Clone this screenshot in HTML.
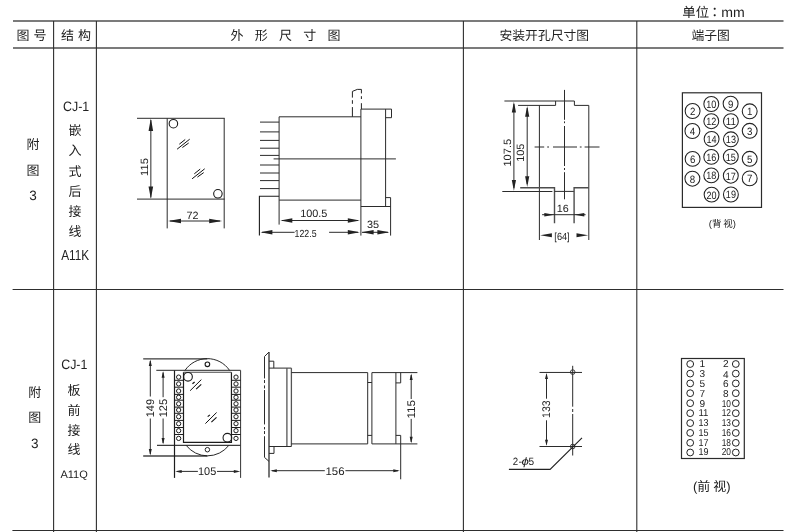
<!DOCTYPE html>
<html lang="zh-CN">
<head>
<meta charset="utf-8">
<title>外形尺寸图</title>
<style>
html,body{margin:0;padding:0;background:#fff;}
body{width:802px;height:532px;overflow:hidden;}
svg{display:block;will-change:transform;transform:translateZ(0);font-family:"Liberation Sans","Noto Sans CJK SC",sans-serif;}
svg text{white-space:pre;text-rendering:geometricPrecision;}
</style>
</head>
<body>
<svg width="802" height="532" viewBox="0 0 802 532">
<rect width="802" height="532" fill="#fff"/>
<line x1="13" y1="21" x2="783.5" y2="21" stroke="#4f4f4f" stroke-width="1.4" />
<line x1="13" y1="48" x2="783.5" y2="48" stroke="#4f4f4f" stroke-width="1.4" />
<line x1="12.6" y1="289.5" x2="783.5" y2="289.5" stroke="#2e2e2e" stroke-width="1.05" />
<line x1="12.4" y1="530.4" x2="783.5" y2="530.4" stroke="#2e2e2e" stroke-width="1.05" />
<line x1="53.6" y1="21" x2="53.6" y2="532" stroke="#2e2e2e" stroke-width="1.1" />
<line x1="96.4" y1="21" x2="96.4" y2="532" stroke="#2e2e2e" stroke-width="1.1" />
<line x1="463.4" y1="21" x2="463.4" y2="532" stroke="#2e2e2e" stroke-width="1.1" />
<line x1="636.8" y1="21" x2="636.8" y2="532" stroke="#2e2e2e" stroke-width="1.1" />
<text x="682.3" y="17.3" font-size="13.4" text-anchor="start" fill="#222" >单位</text>
<text x="714.7" y="17.3" font-size="13.4" text-anchor="middle" fill="#222" font-family="Liberation Sans,Noto Sans CJK TC,sans-serif">：</text>
<text x="721.3" y="17.3" font-size="13.8" text-anchor="start" fill="#222" textLength="23.5" lengthAdjust="spacingAndGlyphs" >mm</text>
<text x="16.4" y="40.4" font-size="13" text-anchor="start" fill="#222" >图</text>
<text x="33.4" y="40.4" font-size="13" text-anchor="start" fill="#222" >号</text>
<text x="61" y="40.4" font-size="13" text-anchor="start" fill="#222" >结</text>
<text x="78" y="40.4" font-size="13" text-anchor="start" fill="#222" >构</text>
<text x="236.9" y="40.4" font-size="13" text-anchor="middle" fill="#222" >外</text>
<text x="261.2" y="40.4" font-size="13" text-anchor="middle" fill="#222" >形</text>
<text x="285.5" y="40.4" font-size="13" text-anchor="middle" fill="#222" >尺</text>
<text x="309.8" y="40.4" font-size="13" text-anchor="middle" fill="#222" >寸</text>
<text x="334.1" y="40.4" font-size="13" text-anchor="middle" fill="#222" >图</text>
<text x="544.3" y="40.4" font-size="12.8" text-anchor="middle" fill="#222" >安装开孔尺寸图</text>
<text x="710.6" y="40.4" font-size="12.8" text-anchor="middle" fill="#222" >端子图</text>
<text x="33" y="148.6" font-size="13" text-anchor="middle" fill="#222" >附</text>
<text x="33" y="174.5" font-size="13" text-anchor="middle" fill="#222" >图</text>
<text x="33.1" y="199.9" font-size="13.5" text-anchor="middle" fill="#222" >3</text>
<text x="76.1" y="110.6" font-size="13.6" text-anchor="middle" fill="#222" textLength="26.2" lengthAdjust="spacingAndGlyphs" >CJ-1</text>
<text x="75.1" y="135.4" font-size="13" text-anchor="middle" fill="#222" >嵌</text>
<text x="75.1" y="155.4" font-size="13" text-anchor="middle" fill="#222" >入</text>
<text x="75.1" y="175.79999999999998" font-size="13" text-anchor="middle" fill="#222" >式</text>
<text x="75.1" y="195.6" font-size="13" text-anchor="middle" fill="#222" >后</text>
<text x="75.1" y="215.5" font-size="13" text-anchor="middle" fill="#222" >接</text>
<text x="75.1" y="235.5" font-size="13" text-anchor="middle" fill="#222" >线</text>
<text x="75.2" y="259.6" font-size="14.5" text-anchor="middle" fill="#222" textLength="28" lengthAdjust="spacingAndGlyphs" >A11K</text>
<line x1="137" y1="118.3" x2="224.7" y2="118.3" stroke="#2b2b2b" stroke-width="1" />
<line x1="137" y1="199.1" x2="224.7" y2="199.1" stroke="#2b2b2b" stroke-width="1" />
<line x1="167.2" y1="118.3" x2="167.2" y2="228.4" stroke="#2b2b2b" stroke-width="1" />
<line x1="224.2" y1="118.3" x2="224.2" y2="228.4" stroke="#2b2b2b" stroke-width="1" />
<circle cx="173.4" cy="123.7" r="4.25" stroke="#1c1c1c" stroke-width="1.1" fill="none"/>
<circle cx="217.9" cy="193.8" r="4.25" stroke="#1c1c1c" stroke-width="1.1" fill="none"/>
<line x1="177.1" y1="149.2" x2="189.7" y2="139.2" stroke="#111" stroke-width="1.0" />
<line x1="179.29999999999998" y1="144.2" x2="185.2" y2="139.5" stroke="#111" stroke-width="1.0" />
<line x1="182.4" y1="147.5" x2="188.7" y2="143.0" stroke="#111" stroke-width="1.0" />
<line x1="192.1" y1="178.8" x2="204.7" y2="168.8" stroke="#111" stroke-width="1.0" />
<line x1="194.29999999999998" y1="173.8" x2="200.2" y2="169.10000000000002" stroke="#111" stroke-width="1.0" />
<line x1="197.4" y1="177.10000000000002" x2="203.7" y2="172.60000000000002" stroke="#111" stroke-width="1.0" />
<line x1="150.85" y1="120" x2="150.85" y2="197.5" stroke="#2b2b2b" stroke-width="1" />
<polygon points="150.85,118.60 153.15,130.90 148.55,130.90" fill="#222"/>
<polygon points="150.85,198.80 148.55,186.50 153.15,186.50" fill="#222"/>
<text x="147.7" y="166.9" font-size="10.6" text-anchor="middle" fill="#222" textLength="18" lengthAdjust="spacingAndGlyphs" transform="rotate(-90 147.7 166.9)" >115</text>
<line x1="170" y1="221" x2="220" y2="221" stroke="#2b2b2b" stroke-width="1" />
<polygon points="168.00,221.00 181.00,218.70 181.00,223.30" fill="#222"/>
<polygon points="222.20,221.00 209.20,223.30 209.20,218.70" fill="#222"/>
<text x="192.5" y="218.9" font-size="10.6" text-anchor="middle" fill="#222" textLength="12" lengthAdjust="spacingAndGlyphs" >72</text>
<line x1="279.1" y1="116.8" x2="360.9" y2="116.8" stroke="#2b2b2b" stroke-width="1" />
<line x1="279.1" y1="116.8" x2="279.1" y2="224.6" stroke="#2b2b2b" stroke-width="1" />
<line x1="260" y1="122.1" x2="279.1" y2="122.1" stroke="#2b2b2b" stroke-width="1" />
<line x1="260" y1="131.9" x2="279.1" y2="131.9" stroke="#2b2b2b" stroke-width="1" />
<line x1="260" y1="140.4" x2="279.1" y2="140.4" stroke="#2b2b2b" stroke-width="1" />
<line x1="260" y1="148.2" x2="279.1" y2="148.2" stroke="#2b2b2b" stroke-width="1" />
<line x1="260" y1="155.4" x2="279.1" y2="155.4" stroke="#2b2b2b" stroke-width="1" />
<line x1="260" y1="165" x2="279.1" y2="165" stroke="#2b2b2b" stroke-width="1" />
<line x1="260" y1="173" x2="279.1" y2="173" stroke="#2b2b2b" stroke-width="1" />
<line x1="260" y1="180.6" x2="279.1" y2="180.6" stroke="#2b2b2b" stroke-width="1" />
<line x1="260" y1="188.6" x2="279.1" y2="188.6" stroke="#2b2b2b" stroke-width="1" />
<line x1="273.6" y1="158.9" x2="395.9" y2="158.9" stroke="#2b2b2b" stroke-width="1" />
<line x1="279.1" y1="200.1" x2="360.9" y2="200.1" stroke="#2b2b2b" stroke-width="1" />
<path d="M279.1 196.2 H259.4 V235.6" stroke="#1c1c1c" stroke-width="1.1" fill="none" />
<line x1="352.4" y1="116.8" x2="352.4" y2="107.1" stroke="#222" stroke-width="1" />
<line x1="352.4" y1="103.8" x2="352.4" y2="100.2" stroke="#222" stroke-width="1" />
<path d="M352.4 97.6 V91.4 L357.3 89.4 H361.4 V93.4" stroke="#222" stroke-width="1" fill="none" />
<line x1="361.4" y1="96.2" x2="361.4" y2="99.0" stroke="#222" stroke-width="1" />
<line x1="361.4" y1="103.2" x2="361.4" y2="109.1" stroke="#222" stroke-width="1" />
<line x1="360.9" y1="109.1" x2="360.9" y2="235.6" stroke="#2b2b2b" stroke-width="1" />
<path d="M360.9 109.1 H391.5 V117.7 H385.6" stroke="#2b2b2b" stroke-width="1" fill="none" />
<line x1="385.6" y1="109.1" x2="385.6" y2="206.5" stroke="#2b2b2b" stroke-width="1" />
<path d="M385.6 197.6 H390.6 V235.6" stroke="#2b2b2b" stroke-width="1" fill="none" />
<line x1="360.9" y1="206.5" x2="390.6" y2="206.5" stroke="#2b2b2b" stroke-width="1" />
<line x1="282" y1="220.5" x2="358" y2="220.5" stroke="#2b2b2b" stroke-width="1" />
<polygon points="280.30,220.50 292.30,218.20 292.30,222.80" fill="#222"/>
<polygon points="359.80,220.50 347.80,222.80 347.80,218.20" fill="#222"/>
<text x="313.8" y="216.9" font-size="10.6" text-anchor="middle" fill="#222" textLength="27.2" lengthAdjust="spacingAndGlyphs" >100.5</text>
<line x1="262" y1="232.3" x2="294.6" y2="232.3" stroke="#2b2b2b" stroke-width="1" />
<polygon points="260.40,232.30 272.40,230.00 272.40,234.60" fill="#222"/>
<line x1="329.1" y1="232.3" x2="358" y2="232.3" stroke="#2b2b2b" stroke-width="1" />
<polygon points="359.80,232.30 347.80,234.60 347.80,230.00" fill="#222"/>
<text x="305.6" y="236.8" font-size="10.3" text-anchor="middle" fill="#222" textLength="22" lengthAdjust="spacingAndGlyphs" >122.5</text>
<line x1="362" y1="232.3" x2="388" y2="232.3" stroke="#2b2b2b" stroke-width="1" />
<polygon points="361.60,232.30 373.60,230.00 373.60,234.60" fill="#222"/>
<polygon points="389.40,232.30 377.40,234.60 377.40,230.00" fill="#222"/>
<text x="373" y="227.7" font-size="10.6" text-anchor="middle" fill="#222" textLength="12.1" lengthAdjust="spacingAndGlyphs" >35</text>
<line x1="504.4" y1="101" x2="574.4" y2="101" stroke="#2b2b2b" stroke-width="1" />
<path d="M518.1 105.4 H555.6 V101" stroke="#2b2b2b" stroke-width="1" fill="none" />
<path d="M574.4 101 V105.4 H588.8 V240" stroke="#2b2b2b" stroke-width="1" fill="none" />
<line x1="539.4" y1="105.4" x2="539.4" y2="240" stroke="#2b2b2b" stroke-width="1" />
<line x1="564.5" y1="89.9" x2="564.5" y2="199.3" stroke="#2b2b2b" stroke-width="1" stroke-dasharray="29.9 1.6 1.8 2.8 40 2 2 2.2 40"/>
<line x1="534.6" y1="147" x2="599.5" y2="147" stroke="#2b2b2b" stroke-width="1" stroke-dasharray="9.6 3 1.8 4 24 2.8 1.8 3 30"/>
<path d="M520.2 187.7 H554.5 V223.2" stroke="#4d4d4d" stroke-width="1.4" fill="none" />
<line x1="502.3" y1="191.5" x2="552.4" y2="191.5" stroke="#2b2b2b" stroke-width="1" />
<line x1="554.5" y1="191.4" x2="574.1" y2="191.4" stroke="#2b2b2b" stroke-width="1" />
<path d="M588.8 187.7 H574.1 V223.2" stroke="#4d4d4d" stroke-width="1.4" fill="none" />
<line x1="513.9" y1="104" x2="513.9" y2="188" stroke="#2b2b2b" stroke-width="1" />
<polygon points="513.90,101.70 516.00,112.50 511.80,112.50" fill="#222"/>
<polygon points="513.90,190.70 511.80,179.90 516.00,179.90" fill="#222"/>
<line x1="527.2" y1="108" x2="527.2" y2="184" stroke="#2b2b2b" stroke-width="1" />
<polygon points="527.20,106.00 529.30,116.80 525.10,116.80" fill="#222"/>
<polygon points="527.20,187.00 525.10,176.20 529.30,176.20" fill="#222"/>
<text x="511.3" y="152.7" font-size="10.6" text-anchor="middle" fill="#222" textLength="27.8" lengthAdjust="spacingAndGlyphs" transform="rotate(-90 511.3 152.7)" >107.5</text>
<text x="524.3" y="152.7" font-size="10.6" text-anchor="middle" fill="#222" textLength="18.2" lengthAdjust="spacingAndGlyphs" transform="rotate(-90 524.3 152.7)" >105</text>
<line x1="542.1" y1="214.7" x2="585.6" y2="214.7" stroke="#2b2b2b" stroke-width="1" />
<polygon points="554.30,214.70 544.30,216.50 544.30,212.90" fill="#222"/>
<polygon points="574.30,214.70 584.30,212.90 584.30,216.50" fill="#222"/>
<text x="562.8" y="211.9" font-size="10.5" text-anchor="middle" fill="#222" textLength="12" lengthAdjust="spacingAndGlyphs" >16</text>
<polygon points="540.20,235.30 551.90,233.30 551.90,237.30" fill="#222"/>
<polygon points="588.20,235.30 576.50,237.30 576.50,233.30" fill="#222"/>
<text x="562" y="239.5" font-size="10.3" text-anchor="middle" fill="#222" textLength="15.3" lengthAdjust="spacingAndGlyphs" >[64]</text>
<rect x="682.4" y="92.8" width="79.1" height="114.6" fill="none" stroke="#2b2b2b" stroke-width="1.2"/>
<circle cx="711.3" cy="104" r="7.45" stroke="#222" stroke-width="1.05" fill="none"/>
<text x="711.3" y="107.9" font-size="10.6" text-anchor="middle" fill="#222" textLength="10.1" lengthAdjust="spacingAndGlyphs" >10</text>
<circle cx="730.6" cy="103.7" r="7.45" stroke="#222" stroke-width="1.05" fill="none"/>
<text x="730.6" y="107.60000000000001" font-size="10.6" text-anchor="middle" fill="#222" textLength="5.4" lengthAdjust="spacingAndGlyphs" >9</text>
<circle cx="692.6" cy="111" r="7.45" stroke="#222" stroke-width="1.05" fill="none"/>
<text x="692.6" y="114.9" font-size="10.6" text-anchor="middle" fill="#222" textLength="5.4" lengthAdjust="spacingAndGlyphs" >2</text>
<circle cx="749.7" cy="111.3" r="7.45" stroke="#222" stroke-width="1.05" fill="none"/>
<text x="749.7" y="115.2" font-size="10.6" text-anchor="middle" fill="#222" textLength="5.4" lengthAdjust="spacingAndGlyphs" >1</text>
<circle cx="711.3" cy="121.2" r="7.45" stroke="#222" stroke-width="1.05" fill="none"/>
<text x="711.3" y="125.10000000000001" font-size="10.6" text-anchor="middle" fill="#222" textLength="10.1" lengthAdjust="spacingAndGlyphs" >12</text>
<circle cx="730.9" cy="121.2" r="7.45" stroke="#222" stroke-width="1.05" fill="none"/>
<text x="730.9" y="125.10000000000001" font-size="10.6" text-anchor="middle" fill="#222" textLength="10.1" lengthAdjust="spacingAndGlyphs" >11</text>
<circle cx="692.4" cy="131" r="7.45" stroke="#222" stroke-width="1.05" fill="none"/>
<text x="692.4" y="134.9" font-size="10.6" text-anchor="middle" fill="#222" textLength="5.4" lengthAdjust="spacingAndGlyphs" >4</text>
<circle cx="749.7" cy="130.8" r="7.45" stroke="#222" stroke-width="1.05" fill="none"/>
<text x="749.7" y="134.70000000000002" font-size="10.6" text-anchor="middle" fill="#222" textLength="5.4" lengthAdjust="spacingAndGlyphs" >3</text>
<circle cx="711.6" cy="139" r="7.45" stroke="#222" stroke-width="1.05" fill="none"/>
<text x="711.6" y="142.9" font-size="10.6" text-anchor="middle" fill="#222" textLength="10.1" lengthAdjust="spacingAndGlyphs" >14</text>
<circle cx="730.9" cy="139.3" r="7.45" stroke="#222" stroke-width="1.05" fill="none"/>
<text x="730.9" y="143.20000000000002" font-size="10.6" text-anchor="middle" fill="#222" textLength="10.1" lengthAdjust="spacingAndGlyphs" >13</text>
<circle cx="692.6" cy="158.9" r="7.45" stroke="#222" stroke-width="1.05" fill="none"/>
<text x="692.6" y="162.8" font-size="10.6" text-anchor="middle" fill="#222" textLength="5.4" lengthAdjust="spacingAndGlyphs" >6</text>
<circle cx="711.3" cy="156.9" r="7.45" stroke="#222" stroke-width="1.05" fill="none"/>
<text x="711.3" y="160.8" font-size="10.6" text-anchor="middle" fill="#222" textLength="10.1" lengthAdjust="spacingAndGlyphs" >16</text>
<circle cx="730.8" cy="156.7" r="7.45" stroke="#222" stroke-width="1.05" fill="none"/>
<text x="730.8" y="160.6" font-size="10.6" text-anchor="middle" fill="#222" textLength="10.1" lengthAdjust="spacingAndGlyphs" >15</text>
<circle cx="749.7" cy="158.8" r="7.45" stroke="#222" stroke-width="1.05" fill="none"/>
<text x="749.7" y="162.70000000000002" font-size="10.6" text-anchor="middle" fill="#222" textLength="5.4" lengthAdjust="spacingAndGlyphs" >5</text>
<circle cx="692.4" cy="178.7" r="7.45" stroke="#222" stroke-width="1.05" fill="none"/>
<text x="692.4" y="182.6" font-size="10.6" text-anchor="middle" fill="#222" textLength="5.4" lengthAdjust="spacingAndGlyphs" >8</text>
<circle cx="711.3" cy="175.4" r="7.45" stroke="#222" stroke-width="1.05" fill="none"/>
<text x="711.3" y="179.3" font-size="10.6" text-anchor="middle" fill="#222" textLength="10.1" lengthAdjust="spacingAndGlyphs" >18</text>
<circle cx="730.8" cy="175.7" r="7.45" stroke="#222" stroke-width="1.05" fill="none"/>
<text x="730.8" y="179.6" font-size="10.6" text-anchor="middle" fill="#222" textLength="10.1" lengthAdjust="spacingAndGlyphs" >17</text>
<circle cx="749.7" cy="178.4" r="7.45" stroke="#222" stroke-width="1.05" fill="none"/>
<text x="749.7" y="182.3" font-size="10.6" text-anchor="middle" fill="#222" textLength="5.4" lengthAdjust="spacingAndGlyphs" >7</text>
<circle cx="711.6" cy="194.6" r="7.45" stroke="#222" stroke-width="1.05" fill="none"/>
<text x="711.6" y="198.5" font-size="10.6" text-anchor="middle" fill="#222" textLength="10.1" lengthAdjust="spacingAndGlyphs" >20</text>
<circle cx="730.9" cy="194.5" r="7.45" stroke="#222" stroke-width="1.05" fill="none"/>
<text x="730.9" y="198.4" font-size="10.6" text-anchor="middle" fill="#222" textLength="10.1" lengthAdjust="spacingAndGlyphs" >19</text>
<text x="708.8" y="227.2" font-size="9.5" text-anchor="start" fill="#222" >(背</text>
<text x="736" y="227.2" font-size="9.5" text-anchor="end" fill="#222" >视)</text>
<text x="34.7" y="396.7" font-size="13" text-anchor="middle" fill="#222" >附</text>
<text x="34.7" y="422.2" font-size="13" text-anchor="middle" fill="#222" >图</text>
<text x="34.7" y="447.7" font-size="13.5" text-anchor="middle" fill="#222" >3</text>
<text x="74.3" y="368.6" font-size="13.6" text-anchor="middle" fill="#222" textLength="26.2" lengthAdjust="spacingAndGlyphs" >CJ-1</text>
<text x="73.9" y="394.5" font-size="13" text-anchor="middle" fill="#222" >板</text>
<text x="73.9" y="414.6" font-size="13" text-anchor="middle" fill="#222" >前</text>
<text x="73.9" y="434.6" font-size="13" text-anchor="middle" fill="#222" >接</text>
<text x="73.9" y="454.1" font-size="13" text-anchor="middle" fill="#222" >线</text>
<text x="74.1" y="478" font-size="10.8" text-anchor="middle" fill="#222" textLength="27.4" lengthAdjust="spacingAndGlyphs" >A11Q</text>
<line x1="143.2" y1="358.8" x2="207.4" y2="358.8" stroke="#3a3a3a" stroke-width="1.3" />
<line x1="156.3" y1="370.3" x2="240.6" y2="370.3" stroke="#505050" stroke-width="1.35" />
<line x1="157" y1="445.3" x2="240.6" y2="445.3" stroke="#3c3c3c" stroke-width="1.3" />
<line x1="143.2" y1="456.0" x2="207.4" y2="456.0" stroke="#444" stroke-width="1.4" />
<line x1="174.5" y1="370.4" x2="174.5" y2="477.9" stroke="#1c1c1c" stroke-width="1.2" />
<line x1="240.6" y1="370.4" x2="240.6" y2="477.9" stroke="#333" stroke-width="1.0" />
<path d="M183.5 372.2 V442.4 H231.45 V372.2" stroke="#1c1c1c" stroke-width="1.2" fill="none" />
<line x1="183.5" y1="372.25" x2="231.3" y2="372.25" stroke="#484848" stroke-width="1.1" />
<path d="M185 370.4 A27 27 0 0 1 229.6 370.4" stroke="#1c1c1c" stroke-width="0.95" fill="none" />
<path d="M186.1 445.3 A27 27 0 0 0 228.9 445.3" stroke="#1c1c1c" stroke-width="0.95" fill="none" />
<circle cx="207.4" cy="364.3" r="2.3" stroke="#1c1c1c" stroke-width="1.1" fill="none"/>
<circle cx="207.4" cy="449.7" r="2.25" stroke="#1c1c1c" stroke-width="0.95" fill="none"/>
<circle cx="188.0" cy="376.8" r="4.35" stroke="#1c1c1c" stroke-width="1.1" fill="none"/>
<circle cx="227.4" cy="437.7" r="4.35" stroke="#1c1c1c" stroke-width="1.1" fill="none"/>
<circle cx="178.65" cy="377.1" r="2.15" stroke="#1c1c1c" stroke-width="1.0" fill="none"/>
<circle cx="236.0" cy="377.1" r="2.15" stroke="#1c1c1c" stroke-width="1.0" fill="none"/>
<circle cx="178.65" cy="383.9" r="2.15" stroke="#1c1c1c" stroke-width="1.0" fill="none"/>
<circle cx="236.0" cy="383.9" r="2.15" stroke="#1c1c1c" stroke-width="1.0" fill="none"/>
<circle cx="178.65" cy="391" r="2.15" stroke="#1c1c1c" stroke-width="1.0" fill="none"/>
<circle cx="236.0" cy="391" r="2.15" stroke="#1c1c1c" stroke-width="1.0" fill="none"/>
<circle cx="178.65" cy="397.3" r="2.15" stroke="#1c1c1c" stroke-width="1.0" fill="none"/>
<circle cx="236.0" cy="397.3" r="2.15" stroke="#1c1c1c" stroke-width="1.0" fill="none"/>
<circle cx="178.65" cy="403.8" r="2.15" stroke="#1c1c1c" stroke-width="1.0" fill="none"/>
<circle cx="236.0" cy="403.8" r="2.15" stroke="#1c1c1c" stroke-width="1.0" fill="none"/>
<circle cx="178.65" cy="410" r="2.15" stroke="#1c1c1c" stroke-width="1.0" fill="none"/>
<circle cx="236.0" cy="410" r="2.15" stroke="#1c1c1c" stroke-width="1.0" fill="none"/>
<circle cx="178.65" cy="416.7" r="2.15" stroke="#1c1c1c" stroke-width="1.0" fill="none"/>
<circle cx="236.0" cy="416.7" r="2.15" stroke="#1c1c1c" stroke-width="1.0" fill="none"/>
<circle cx="178.65" cy="423.7" r="2.15" stroke="#1c1c1c" stroke-width="1.0" fill="none"/>
<circle cx="236.0" cy="423.7" r="2.15" stroke="#1c1c1c" stroke-width="1.0" fill="none"/>
<circle cx="178.65" cy="430.7" r="2.15" stroke="#1c1c1c" stroke-width="1.0" fill="none"/>
<circle cx="236.0" cy="430.7" r="2.15" stroke="#1c1c1c" stroke-width="1.0" fill="none"/>
<circle cx="178.65" cy="438.4" r="2.15" stroke="#1c1c1c" stroke-width="1.0" fill="none"/>
<circle cx="236.0" cy="438.4" r="2.15" stroke="#1c1c1c" stroke-width="1.0" fill="none"/>
<line x1="174.5" y1="380.3" x2="183.5" y2="380.3" stroke="#1c1c1c" stroke-width="1.0" />
<line x1="231.3" y1="380.3" x2="240.6" y2="380.3" stroke="#1c1c1c" stroke-width="1.0" />
<line x1="174.5" y1="387.2" x2="183.5" y2="387.2" stroke="#1c1c1c" stroke-width="1.0" />
<line x1="231.3" y1="387.2" x2="240.6" y2="387.2" stroke="#1c1c1c" stroke-width="1.0" />
<line x1="174.5" y1="394.4" x2="183.5" y2="394.4" stroke="#1c1c1c" stroke-width="1.0" />
<line x1="231.3" y1="394.4" x2="240.6" y2="394.4" stroke="#1c1c1c" stroke-width="1.0" />
<line x1="174.5" y1="400.2" x2="183.5" y2="400.2" stroke="#1c1c1c" stroke-width="1.0" />
<line x1="231.3" y1="400.2" x2="240.6" y2="400.2" stroke="#1c1c1c" stroke-width="1.0" />
<line x1="174.5" y1="407.1" x2="183.5" y2="407.1" stroke="#1c1c1c" stroke-width="1.0" />
<line x1="231.3" y1="407.1" x2="240.6" y2="407.1" stroke="#1c1c1c" stroke-width="1.0" />
<line x1="174.5" y1="413.3" x2="183.5" y2="413.3" stroke="#1c1c1c" stroke-width="1.0" />
<line x1="231.3" y1="413.3" x2="240.6" y2="413.3" stroke="#1c1c1c" stroke-width="1.0" />
<line x1="174.5" y1="420.4" x2="183.5" y2="420.4" stroke="#1c1c1c" stroke-width="1.0" />
<line x1="231.3" y1="420.4" x2="240.6" y2="420.4" stroke="#1c1c1c" stroke-width="1.0" />
<line x1="174.5" y1="427.5" x2="183.5" y2="427.5" stroke="#1c1c1c" stroke-width="1.0" />
<line x1="231.3" y1="427.5" x2="240.6" y2="427.5" stroke="#1c1c1c" stroke-width="1.0" />
<line x1="174.5" y1="434.5" x2="183.5" y2="434.5" stroke="#1c1c1c" stroke-width="1.0" />
<line x1="231.3" y1="434.5" x2="240.6" y2="434.5" stroke="#1c1c1c" stroke-width="1.0" />
<line x1="190.15" y1="390.7" x2="201.35" y2="379.59999999999997" stroke="#111" stroke-width="1.0" />
<line x1="196.15" y1="389.2" x2="201.25" y2="384.4" stroke="#111" stroke-width="1.1" />
<line x1="192.45000000000002" y1="383.7" x2="194.65" y2="382.0" stroke="#111" stroke-width="1.2" />
<line x1="205.4" y1="423.6" x2="216.6" y2="412.5" stroke="#111" stroke-width="1.0" />
<line x1="211.4" y1="422.1" x2="216.5" y2="417.3" stroke="#111" stroke-width="1.1" />
<line x1="207.70000000000002" y1="416.6" x2="209.9" y2="414.90000000000003" stroke="#111" stroke-width="1.2" />
<line x1="150.3" y1="361" x2="150.3" y2="396.5" stroke="#2b2b2b" stroke-width="1" />
<line x1="150.3" y1="418.5" x2="150.3" y2="454" stroke="#2b2b2b" stroke-width="1" />
<polygon points="150.30,359.60 151.80,366.10 148.80,366.10" fill="#222"/>
<polygon points="150.30,455.40 148.80,448.90 151.80,448.90" fill="#222"/>
<text x="153.9" y="408.1" font-size="11.1" text-anchor="middle" fill="#222" textLength="18.3" lengthAdjust="spacingAndGlyphs" transform="rotate(-90 153.9 408.1)" >149</text>
<line x1="163.1" y1="372.5" x2="163.1" y2="397.2" stroke="#2b2b2b" stroke-width="1" />
<line x1="163.1" y1="418.5" x2="163.1" y2="443" stroke="#2b2b2b" stroke-width="1" />
<polygon points="163.10,371.20 164.60,377.70 161.60,377.70" fill="#222"/>
<polygon points="163.10,444.60 161.60,438.10 164.60,438.10" fill="#222"/>
<text x="167.0" y="408.1" font-size="11.1" text-anchor="middle" fill="#222" textLength="18.3" lengthAdjust="spacingAndGlyphs" transform="rotate(-90 167.0 408.1)" >125</text>
<line x1="177" y1="471.4" x2="197.9" y2="471.4" stroke="#2b2b2b" stroke-width="1" />
<line x1="217.0" y1="471.4" x2="238" y2="471.4" stroke="#2b2b2b" stroke-width="1" />
<polygon points="175.20,471.40 181.70,469.90 181.70,472.90" fill="#222"/>
<polygon points="240.30,471.40 233.80,472.90 233.80,469.90" fill="#222"/>
<text x="207.1" y="474.8" font-size="11.0" text-anchor="middle" fill="#222" textLength="18.2" lengthAdjust="spacingAndGlyphs" >105</text>
<line x1="269" y1="352" x2="269" y2="477.4" stroke="#555" stroke-width="1.6" />
<path d="M269 352 L264.5 356.5 V457.4 L269 461.4" stroke="#2b2b2b" stroke-width="1" fill="none" stroke-dasharray="28.3 1.6 3 2.4 3 1.6 34.4 2.6 2.4 1.6 3 2.2 40"/>
<path d="M269 361.2 H273.8 V368.1" stroke="#2b2b2b" stroke-width="1" fill="none" />
<line x1="269" y1="368.1" x2="291.4" y2="368.1" stroke="#2b2b2b" stroke-width="1" />
<line x1="286.9" y1="368.1" x2="286.9" y2="446.5" stroke="#555" stroke-width="1.3" />
<line x1="291.4" y1="368.1" x2="291.4" y2="446.5" stroke="#555" stroke-width="1.3" />
<line x1="269" y1="446.5" x2="291.4" y2="446.5" stroke="#2b2b2b" stroke-width="1" />
<path d="M274 446.5 V453.4 H269" stroke="#2b2b2b" stroke-width="1" fill="none" />
<line x1="291.4" y1="372.6" x2="367.7" y2="372.6" stroke="#2b2b2b" stroke-width="1" />
<line x1="291.4" y1="443.9" x2="367.7" y2="443.9" stroke="#2b2b2b" stroke-width="1" />
<line x1="367.7" y1="372.6" x2="367.7" y2="443.9" stroke="#2b2b2b" stroke-width="1" />
<line x1="371.9" y1="372.6" x2="371.9" y2="443.9" stroke="#2b2b2b" stroke-width="1" />
<line x1="371.9" y1="372.6" x2="417.4" y2="372.6" stroke="#2b2b2b" stroke-width="1" />
<line x1="371.9" y1="443.9" x2="417.4" y2="443.9" stroke="#2b2b2b" stroke-width="1" />
<line x1="367.7" y1="382.5" x2="371.9" y2="382.5" stroke="#2b2b2b" stroke-width="1" />
<line x1="367.7" y1="435.4" x2="371.9" y2="435.4" stroke="#2b2b2b" stroke-width="1" />
<line x1="395.9" y1="372.6" x2="395.9" y2="443.9" stroke="#2b2b2b" stroke-width="1" />
<path d="M400.7 372.6 V382.9 H395.9" stroke="#2b2b2b" stroke-width="1" fill="none" />
<path d="M395.9 435.4 H400.7 V479.3" stroke="#2b2b2b" stroke-width="1" fill="none" />
<line x1="411.2" y1="375" x2="411.2" y2="399" stroke="#2b2b2b" stroke-width="1" />
<line x1="411.2" y1="418.9" x2="411.2" y2="442" stroke="#2b2b2b" stroke-width="1" />
<polygon points="411.20,373.40 412.70,379.90 409.70,379.90" fill="#222"/>
<polygon points="411.20,443.30 409.70,436.80 412.70,436.80" fill="#222"/>
<text x="415.0" y="409.2" font-size="11.1" text-anchor="middle" fill="#222" textLength="18.6" lengthAdjust="spacingAndGlyphs" transform="rotate(-90 415.0 409.2)" >115</text>
<line x1="272" y1="470.7" x2="324.8" y2="470.7" stroke="#2b2b2b" stroke-width="1" />
<line x1="345.4" y1="470.7" x2="398" y2="470.7" stroke="#2b2b2b" stroke-width="1" />
<polygon points="270.30,470.70 276.80,469.20 276.80,472.20" fill="#222"/>
<polygon points="399.80,470.70 393.30,472.20 393.30,469.20" fill="#222"/>
<text x="335" y="474.7" font-size="11.0" text-anchor="middle" fill="#222" textLength="19.1" lengthAdjust="spacingAndGlyphs" >156</text>
<line x1="539.5" y1="372.45" x2="582" y2="372.45" stroke="#2b2b2b" stroke-width="1" />
<line x1="539.5" y1="446.5" x2="582" y2="446.5" stroke="#2b2b2b" stroke-width="1" />
<line x1="572.7" y1="365.8" x2="572.7" y2="455.5" stroke="#2b2b2b" stroke-width="1" stroke-dasharray="40.9 2.3 3 2 60"/>
<circle cx="572.7" cy="372.1" r="2.3" stroke="#2b2b2b" stroke-width="0.9" fill="none"/>
<circle cx="572.7" cy="446.5" r="2.3" stroke="#2b2b2b" stroke-width="0.9" fill="none"/>
<line x1="546.5" y1="374.5" x2="546.5" y2="398.7" stroke="#2b2b2b" stroke-width="1" />
<line x1="546.5" y1="420.3" x2="546.5" y2="444.5" stroke="#2b2b2b" stroke-width="1" />
<polygon points="546.50,372.90 548.00,378.90 545.00,378.90" fill="#222"/>
<polygon points="546.50,445.80 545.00,439.80 548.00,439.80" fill="#222"/>
<text x="550.4" y="409.2" font-size="11.1" text-anchor="middle" fill="#222" textLength="17.4" lengthAdjust="spacingAndGlyphs" transform="rotate(-90 550.4 409.2)" >133</text>
<path d="M582 437.8 L550.1 469.3 H508.9" stroke="#222" stroke-width="1.15" fill="none" />
<text x="512.7" y="465.0" font-size="10.6" text-anchor="start" fill="#222" textLength="5.4" lengthAdjust="spacingAndGlyphs" >2</text>
<text x="518.6" y="465.0" font-size="10.6" text-anchor="start" fill="#222" textLength="3.6" lengthAdjust="spacingAndGlyphs" >-</text>
<text x="521.6" y="465.0" font-size="10.6" text-anchor="start" fill="#222" textLength="7.4" lengthAdjust="spacingAndGlyphs" font-style="italic">ϕ</text>
<text x="528.5" y="465.0" font-size="10.6" text-anchor="start" fill="#222" textLength="5.6" lengthAdjust="spacingAndGlyphs" >5</text>
<rect x="681.5" y="358.5" width="62.8" height="100" fill="none" stroke="#2b2b2b" stroke-width="1.2"/>
<circle cx="690.2" cy="364" r="3.4" stroke="#222" stroke-width="1.0" fill="none"/>
<circle cx="735.8" cy="364" r="3.4" stroke="#222" stroke-width="1.0" fill="none"/>
<text x="699.6" y="366.6" font-size="10" text-anchor="start" fill="#222" textLength="5.6" lengthAdjust="spacingAndGlyphs" >1</text>
<text x="728.6" y="366.6" font-size="10" text-anchor="end" fill="#222" textLength="5.6" lengthAdjust="spacingAndGlyphs" >2</text>
<circle cx="690.2" cy="373.6" r="3.4" stroke="#222" stroke-width="1.0" fill="none"/>
<circle cx="735.8" cy="373.6" r="3.4" stroke="#222" stroke-width="1.0" fill="none"/>
<text x="699.6" y="376.9" font-size="10" text-anchor="start" fill="#222" textLength="5.6" lengthAdjust="spacingAndGlyphs" >3</text>
<text x="728.6" y="377.5" font-size="10" text-anchor="end" fill="#222" textLength="5.6" lengthAdjust="spacingAndGlyphs" >4</text>
<circle cx="690.2" cy="383.4" r="3.4" stroke="#222" stroke-width="1.0" fill="none"/>
<circle cx="735.8" cy="383.4" r="3.4" stroke="#222" stroke-width="1.0" fill="none"/>
<text x="699.6" y="386.9" font-size="10" text-anchor="start" fill="#222" textLength="5.6" lengthAdjust="spacingAndGlyphs" >5</text>
<text x="728.6" y="386.5" font-size="10" text-anchor="end" fill="#222" textLength="5.6" lengthAdjust="spacingAndGlyphs" >6</text>
<circle cx="690.2" cy="393.2" r="3.4" stroke="#222" stroke-width="1.0" fill="none"/>
<circle cx="735.8" cy="393.2" r="3.4" stroke="#222" stroke-width="1.0" fill="none"/>
<text x="699.6" y="396.9" font-size="10" text-anchor="start" fill="#222" textLength="5.6" lengthAdjust="spacingAndGlyphs" >7</text>
<text x="728.6" y="396.5" font-size="10" text-anchor="end" fill="#222" textLength="5.6" lengthAdjust="spacingAndGlyphs" >8</text>
<circle cx="690.2" cy="403.2" r="3.4" stroke="#222" stroke-width="1.0" fill="none"/>
<circle cx="735.8" cy="403.2" r="3.4" stroke="#222" stroke-width="1.0" fill="none"/>
<text x="699.6" y="406.5" font-size="10" text-anchor="start" fill="#222" textLength="5.6" lengthAdjust="spacingAndGlyphs" >9</text>
<text x="731.0" y="406.5" font-size="10" text-anchor="end" fill="#222" textLength="9.3" lengthAdjust="spacingAndGlyphs" >10</text>
<circle cx="690.2" cy="413.2" r="3.4" stroke="#222" stroke-width="1.0" fill="none"/>
<circle cx="735.8" cy="413.2" r="3.4" stroke="#222" stroke-width="1.0" fill="none"/>
<text x="698.4" y="416.0" font-size="10" text-anchor="start" fill="#222" textLength="10.0" lengthAdjust="spacingAndGlyphs" >11</text>
<text x="731.0" y="416.0" font-size="10" text-anchor="end" fill="#222" textLength="9.3" lengthAdjust="spacingAndGlyphs" >12</text>
<circle cx="690.2" cy="423.1" r="3.4" stroke="#222" stroke-width="1.0" fill="none"/>
<circle cx="735.8" cy="423.1" r="3.4" stroke="#222" stroke-width="1.0" fill="none"/>
<text x="698.4" y="425.7" font-size="10" text-anchor="start" fill="#222" textLength="10.0" lengthAdjust="spacingAndGlyphs" >13</text>
<text x="731.0" y="425.7" font-size="10" text-anchor="end" fill="#222" textLength="9.3" lengthAdjust="spacingAndGlyphs" >13</text>
<circle cx="690.2" cy="432.9" r="3.4" stroke="#222" stroke-width="1.0" fill="none"/>
<circle cx="735.8" cy="432.9" r="3.4" stroke="#222" stroke-width="1.0" fill="none"/>
<text x="698.4" y="435.7" font-size="10" text-anchor="start" fill="#222" textLength="10.0" lengthAdjust="spacingAndGlyphs" >15</text>
<text x="731.0" y="435.7" font-size="10" text-anchor="end" fill="#222" textLength="9.3" lengthAdjust="spacingAndGlyphs" >16</text>
<circle cx="690.2" cy="442.8" r="3.4" stroke="#222" stroke-width="1.0" fill="none"/>
<circle cx="735.8" cy="442.8" r="3.4" stroke="#222" stroke-width="1.0" fill="none"/>
<text x="698.4" y="445.6" font-size="10" text-anchor="start" fill="#222" textLength="10.0" lengthAdjust="spacingAndGlyphs" >17</text>
<text x="731.0" y="445.6" font-size="10" text-anchor="end" fill="#222" textLength="9.3" lengthAdjust="spacingAndGlyphs" >18</text>
<circle cx="690.2" cy="452.5" r="3.4" stroke="#222" stroke-width="1.0" fill="none"/>
<circle cx="735.8" cy="452.5" r="3.4" stroke="#222" stroke-width="1.0" fill="none"/>
<text x="698.4" y="454.9" font-size="10" text-anchor="start" fill="#222" textLength="10.0" lengthAdjust="spacingAndGlyphs" >19</text>
<text x="731.0" y="454.9" font-size="10" text-anchor="end" fill="#222" textLength="9.3" lengthAdjust="spacingAndGlyphs" >20</text>
<text x="693" y="491.2" font-size="13" text-anchor="start" fill="#222" >(前</text>
<text x="730.5" y="491.2" font-size="13" text-anchor="end" fill="#222" >视)</text>
</svg>
</body>
</html>
